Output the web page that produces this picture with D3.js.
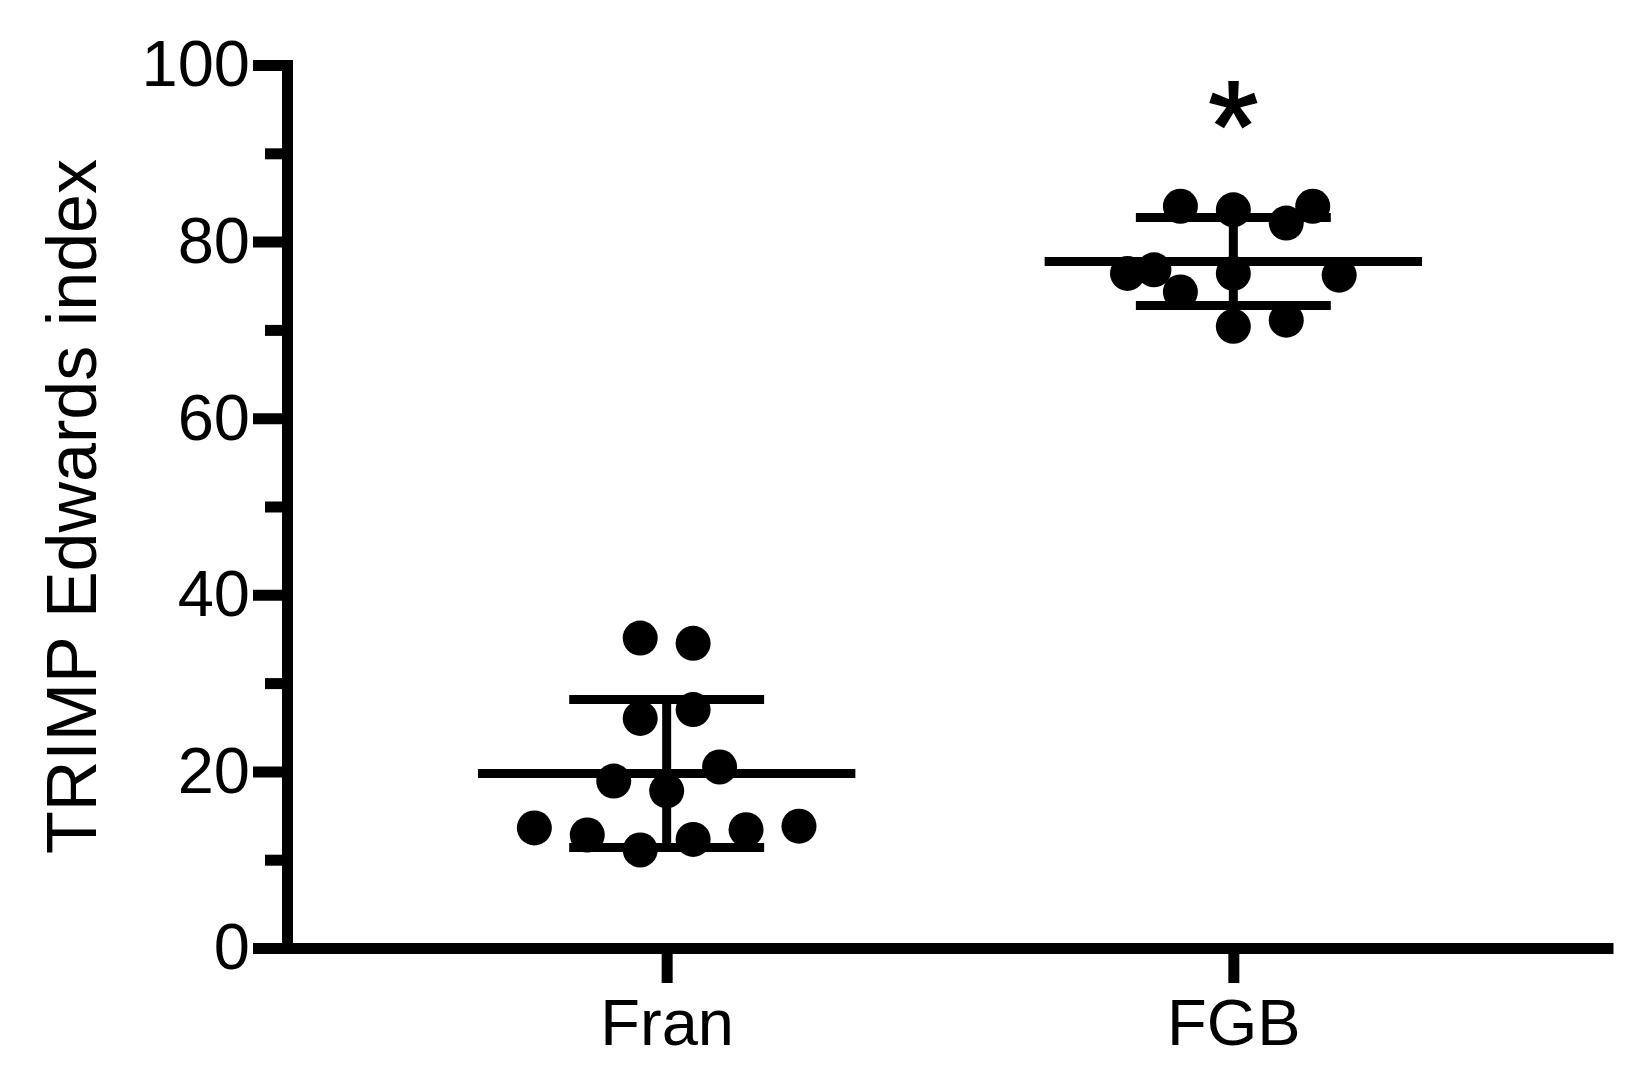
<!DOCTYPE html>
<html><head><meta charset="utf-8">
<script src="https://cdn.jsdelivr.net/npm/d3@7"></script>
<style>html,body{margin:0;padding:0;background:#fff;} svg{display:block;}</style>
</head><body>
<svg id="chart" width="1649" height="1086"></svg>
<script>
// ---- data ----
const categories = ["Fran", "FGB"];
const franValues = [35.1, 34.5, 26.0, 27.0, 18.9, 20.5, 17.8, 13.6, 12.8, 11.1, 12.3, 13.4, 13.8];
const franSlots  = [-1, 1, -1, 1, -2, 2, 0, -5, -3, -1, 1, 3, 5];
const fgbValues  = [84.0, 83.6, 84.0, 82.1, 76.4, 76.8, 76.4, 76.2, 74.3, 70.4, 71.1];
const fgbSlots   = [-2, 0, 3, 2, -4, -3, 0, 4, -2, 0, 2];
const yMajorTicks = [0, 20, 40, 60, 80, 100];
const yMinorTicks = [10, 30, 50, 70, 90];
const yLabel = "TRIMP Edwards index";
const significanceMarks = ["", "*"];
const significanceLevel = [null, 95.5];

// ---- layout ----
const FONT = '"Liberation Sans", Arial, Helvetica, sans-serif';
const svg = d3.select("#chart");
const x = d3.scalePoint().domain(categories).range([287, 1613]).padding(0.67);
const y = d3.scaleLinear().domain([0, 100]).range([948, 65]);
const jitterStep = x.step() * 0.0467;
const meanHalf = x.step() * 0.333;
const capHalf = x.step() * 0.172;

const groups = [
  {cat: "Fran", values: franValues, slots: franSlots},
  {cat: "FGB", values: fgbValues, slots: fgbSlots}
];

// y axis (major)
const gy = svg.append("g").attr("transform", "translate(287,0)")
  .call(d3.axisLeft(y).tickValues(yMajorTicks).tickSize(34).tickSizeOuter(0).tickPadding(3));
gy.select(".domain").attr("stroke", "#000").attr("stroke-width", 11).attr("stroke-linecap", "square");
gy.selectAll(".tick line").attr("stroke", "#000").attr("stroke-width", 11);
gy.selectAll(".tick text").attr("font-family", FONT).attr("font-size", 65).attr("fill", "#000");
// y axis (minor)
const gym = svg.append("g").attr("transform", "translate(287,0)")
  .call(d3.axisLeft(y).tickValues(yMinorTicks).tickSize(22).tickSizeOuter(0).tickFormat(""));
gym.select(".domain").remove();
gym.selectAll(".tick line").attr("stroke", "#000").attr("stroke-width", 11);

// x axis
const gx = svg.append("g").attr("transform", "translate(0,948)")
  .call(d3.axisBottom(x).tickSize(35).tickSizeOuter(0).tickPadding(16));
gx.select(".domain").attr("stroke", "#000").attr("stroke-width", 11).attr("stroke-linecap", "butt");
gx.selectAll(".tick line").attr("stroke", "#000").attr("stroke-width", 11);
gx.selectAll(".tick text").attr("font-family", FONT).attr("font-size", 65).attr("fill", "#000");

// y label
svg.append("text")
  .attr("transform", "translate(96," + ((y(0) + y(100)) / 2) + ") rotate(-90)")
  .attr("text-anchor", "middle")
  .attr("font-family", FONT).attr("font-size", 70).attr("fill", "#000")
  .text(yLabel);

// mean & SD bars
const eb = svg.append("g").attr("stroke", "#000").attr("stroke-width", 9).attr("fill", "none");
groups.forEach(g => {
  const m = d3.mean(g.values), s = d3.deviation(g.values), cx = x(g.cat);
  eb.append("line").attr("x1", cx - meanHalf).attr("x2", cx + meanHalf).attr("y1", y(m)).attr("y2", y(m));
  eb.append("line").attr("x1", cx - capHalf).attr("x2", cx + capHalf).attr("y1", y(m + s)).attr("y2", y(m + s));
  eb.append("line").attr("x1", cx - capHalf).attr("x2", cx + capHalf).attr("y1", y(m - s)).attr("y2", y(m - s));
  eb.append("line").attr("x1", cx).attr("x2", cx).attr("y1", y(m + s)).attr("y2", y(m - s));
});

// points
groups.forEach(g => {
  svg.append("g").selectAll("circle")
    .data(g.values.map((v, i) => ({v, slot: g.slots[i]})))
    .join("circle")
    .attr("cx", d => x(g.cat) + d.slot * jitterStep)
    .attr("cy", d => y(d.v))
    .attr("r", 17.5)
    .attr("fill", "#000");
});

// significance asterisk (sized by ink box)
const ctx = document.createElement("canvas").getContext("2d");
ctx.font = '100px "Liberation Sans"';
const mm = ctx.measureText("*");
const inkH100 = mm.actualBoundingBoxAscent + mm.actualBoundingBoxDescent;
const fs = 100 * 46 / (inkH100 || 30);
const asc = (mm.actualBoundingBoxAscent || 70) * fs / 100;
const inkHalf = 23;
categories.forEach((c, i) => {
  if (!significanceMarks[i]) return;
  svg.append("text")
    .attr("x", x(c))
    .attr("y", y(significanceLevel[i]) - inkHalf + asc)
    .attr("text-anchor", "middle")
    .attr("font-family", FONT).attr("font-size", fs).attr("fill", "#000")
    .attr("stroke", "#000").attr("stroke-width", 2)
    .text(significanceMarks[i]);
});
</script>
</body></html>
